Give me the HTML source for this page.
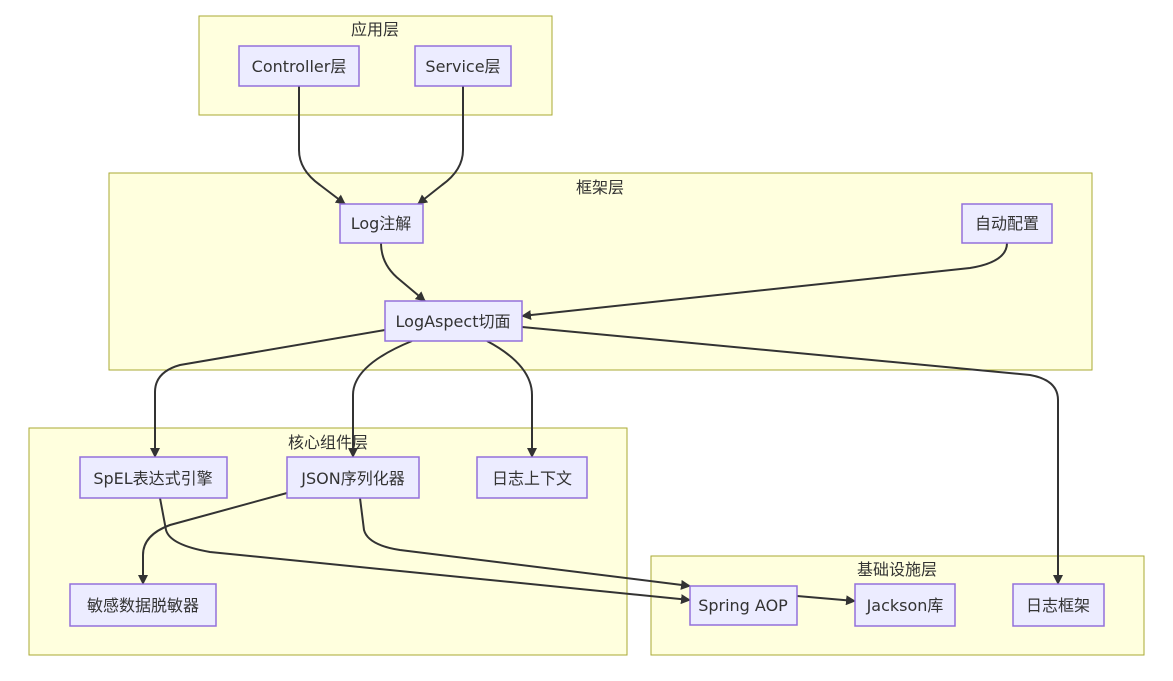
<!DOCTYPE html>
<html><head><meta charset="utf-8"><style>
body{margin:0;background:#fff;}
svg text{font-family:"DejaVu Sans","Noto Sans CJK SC",sans-serif;font-size:16px;fill:#333;}
.c{fill:#ffffde;stroke:#aaaa33;stroke-width:1;}
.n{fill:#ececff;stroke:#9370db;stroke-width:1.5;}
.e{fill:none;stroke:#333;stroke-width:2;marker-end:url(#a);}
</style></head><body>
<svg width="1173" height="676" xmlns="http://www.w3.org/2000/svg">
<defs><marker id="a" viewBox="0 0 10 10" refX="9" refY="5" markerWidth="5" markerHeight="5" orient="auto"><path d="M0,0L10,5L0,10z" fill="#333"/></marker></defs>
<rect class="c" x="199" y="16" width="353" height="99"/>
<rect class="c" x="109" y="173" width="983" height="197"/>
<rect class="c" x="29" y="428" width="598" height="227"/>
<rect class="c" x="651" y="556" width="493" height="99"/>
<g text-anchor="middle">
<text x="375" y="35">应用层</text>
<text x="600" y="193">框架层</text>
<text x="328" y="448">核心组件层</text>
<text x="897" y="575">基础设施层</text>
</g>
<path class="e" d="M299,86 L299,150 Q299,170 320,185 L345,204"/>
<path class="e" d="M463,86 L463,150 Q463,170 442,185 L418,204"/>
<path class="e" d="M381,243 Q381,265 400,280 L425,301"/>
<path class="e" d="M1007,243 Q1007,262 970,268 L522,316"/>
<path class="e" d="M385,330 L180,365 Q155,372 155,392 L155,457"/>
<path class="e" d="M412,341 Q353,365 353,395 L353,457"/>
<path class="e" d="M487,341 Q532,365 532,395 L532,457"/>
<path class="e" d="M522,327 L1030,375 Q1058,380 1058,400 L1058,584"/>
<path class="e" d="M287,493 L170,525 Q143,535 143,555 L143,584"/>
<path class="e" d="M160,498 L166,530 Q170,545 210,552 L690,600"/>
<path class="e" d="M360,498 L364,530 Q368,545 400,550 L690,586"/>
<path class="e" d="M797,596 L855,601"/>
<rect class="n" x="239" y="46" width="120" height="40"/>
<rect class="n" x="415" y="46" width="96" height="40"/>
<rect class="n" x="340" y="204" width="83" height="39"/>
<rect class="n" x="962" y="204" width="90" height="39"/>
<rect class="n" x="385" y="301" width="137" height="40"/>
<rect class="n" x="80" y="457" width="147" height="41"/>
<rect class="n" x="287" y="457" width="132" height="41"/>
<rect class="n" x="477" y="457" width="110" height="41"/>
<rect class="n" x="70" y="584" width="146" height="42"/>
<rect class="n" x="690" y="586" width="107" height="39"/>
<rect class="n" x="855" y="584" width="100" height="42"/>
<rect class="n" x="1013" y="584" width="91" height="42"/>
<g text-anchor="middle">
<text x="299" y="72">Controller层</text>
<text x="463" y="72">Service层</text>
<text x="381" y="229">Log注解</text>
<text x="1007" y="229">自动配置</text>
<text x="453" y="327">LogAspect切面</text>
<text x="153" y="484">SpEL表达式引擎</text>
<text x="353" y="484">JSON序列化器</text>
<text x="532" y="484">日志上下文</text>
<text x="143" y="611">敏感数据脱敏器</text>
<text x="743" y="611">Spring AOP</text>
<text x="905" y="611">Jackson库</text>
<text x="1058" y="611">日志框架</text>
</g>
</svg>
</body></html>
